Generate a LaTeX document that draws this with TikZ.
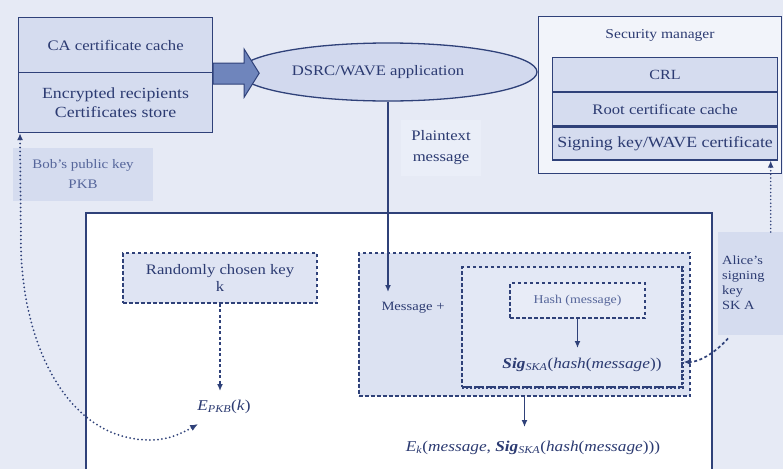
\documentclass[tikz,border=0pt]{standalone}
\usepackage{fontspec}
\setmainfont{Liberation Serif}[FakeStretch=1.15]
\usetikzlibrary{arrows.meta,shapes.geometric}
\definecolor{bg}{HTML}{E6EAF5}
\definecolor{fillA}{HTML}{D5DCEF}
\definecolor{ellf}{HTML}{D2D9EE}
\definecolor{smf}{HTML}{F2F4FA}
\definecolor{ptf}{HTML}{EAEEF8}
\definecolor{rkf}{HTML}{DFE4F3}
\definecolor{mbf}{HTML}{DCE2F2}
\definecolor{sbf}{HTML}{E3E8F5}
\definecolor{hbf}{HTML}{E8ECF7}
\definecolor{txt}{HTML}{2C3B72}
\definecolor{txtl}{HTML}{55659A}
\definecolor{ln}{HTML}{2F4179}
\definecolor{arr}{HTML}{6F85BC}
\newcommand{\fsz}[2]{\fontsize{#1}{#2}\selectfont}
\begin{document}
\begin{tikzpicture}[x=1pt,y=-1pt,
  every node/.style={text=txt, inner sep=0pt},
  box/.style={draw=ln, line width=1.2pt, fill=fillA, align=center},
  rowbox/.style={draw=ln, line width=1.2pt, fill=fillA, minimum width=225pt, anchor=north west},
  dbox/.style={draw=ln, line width=1.1pt, dash pattern=on 3.5pt off 2.5pt},
  solidarrow/.style={draw=ln, line width=1.4pt, -{Latex[length=7pt,width=6pt]}},
  dashedarrow/.style={draw=ln, line width=1.7pt, dash pattern=on 3pt off 2.5pt, -{Latex[length=7pt,width=6pt]}},
  dottedarrow/.style={draw=ln, line width=1.7pt, line cap=round, dash pattern=on 0pt off 3.6pt, -{Latex[length=7pt,width=6pt]}},
  bobarrow/.style={draw=ln, line width=2pt, line cap=round, dash pattern=on 0pt off 4pt, {Latex[length=7pt,width=6pt]}-{Latex[length=8pt,width=6.5pt]}}
]
\fill[bg] (0,0) rectangle (783,469);
\useasboundingbox (0,0) rectangle (783,469);

% top-left store
\node[box, minimum width=194pt, minimum height=55pt, anchor=north west, font=\fsz{14.5}{18}] (ca) at (18,17) {CA certificate cache};
\node[box, minimum width=194pt, minimum height=60pt, anchor=north west, font=\fsz{15.5}{19}] (enc) at (18,72) {Encrypted recipients\\Certificates store};

% application
\node[ellipse, draw=ln, line width=1.3pt, fill=ellf, minimum width=298pt, minimum height=58pt, font=\fsz{14.5}{18}] (app) at (388,72) {\hspace*{-20pt}DSRC/WAVE application};

% thick block arrow
\draw[ln, line width=1pt, fill=arr]
  ([shift={(0,-10)}]ca.south east) -- ([shift={(31,-10)}]ca.south east) -- ([shift={(31,-24)}]ca.south east)
  -- ([shift={(46,0)}]ca.south east) -- ([shift={(31,24)}]ca.south east) -- ([shift={(31,11)}]ca.south east)
  -- ([shift={(0,11)}]ca.south east) -- cycle;

% security manager
\node[draw=ln, line width=1.3pt, fill=smf, minimum width=243pt, minimum height=157pt, anchor=north west] (sm) at (538,16) {};
\node[font=\fsz{13.5}{16}] (smt) at (660,35) {Security manager};
\node[rowbox, minimum height=34pt, font=\fsz{14}{16}] (crl) at (552,57) {CRL};
\node[rowbox, minimum height=33pt, font=\fsz{14.5}{16}] (root) at (crl.south west) {Root certificate cache};
\node[rowbox, minimum height=33pt, font=\fsz{15.5}{16}] (sign) at (root.south west) {Signing key/WAVE certificate};

% plaintext label
\node[fill=ptf, minimum width=80pt, minimum height=56pt, align=center, font=\fsz{14.5}{21}] (pt) at (441,148) {Plaintext\\message};

% Bob's key
\node[fill=fillA, minimum width=140pt, minimum height=53pt, align=center, font=\fsz{13}{20}, text=txtl] (bob) at (83,174) {Bob's public key\\PKB};

% main frame
\fill[white] (86,213) rectangle (712,469);
\draw[ln, line width=1.4pt] (86,469) -- (86,213) -- (712,213) -- (712,469);

% Alice's key
\node[fill=fillA, minimum width=65pt, minimum height=103pt, anchor=north west] (al) at (718,232) {};
\node[anchor=west, align=left, font=\fsz{12.5}{15}] (alt) at (722,283) {Alice's\\signing\\key\\SK A};

% random key
\node[dbox, fill=rkf, minimum width=194pt, minimum height=50pt, align=center, font=\fsz{14.5}{17}] (rk) at (220,278) {Randomly chosen key\\k};
\node[font=\fsz{15}{18}] (epk) at (224,407) {\textit{E}\textsubscript{\textit{PKB}}(\textit{k})};

% message / signature boxes
\node[dbox, fill=mbf, minimum width=331pt, minimum height=143pt] (mb) at (524.5,324.5) {};
\node[dbox, fill=sbf, minimum width=220pt, minimum height=120pt] (sb) at (572,327) {};
\draw[ln, line width=2.2pt, dash pattern=on 2pt off 2pt] (sb.north east) -- (sb.south east) -- (sb.south west);
\node[dbox, fill=hbf, minimum width=135pt, minimum height=35pt, font=\fsz{12}{14}, text=txtl] (hb) at (577.5,300.5) {Hash (message)};
\node[font=\fsz{15}{18}] (sig) at (582,365) {\textbf{\textit{Sig}}\textsubscript{\textit{SKA}}(\textit{hash}(\textit{message}))};
\node[font=\fsz{12.7}{15}] (msg) at (413,308) {Message +};
\node[font=\fsz{15}{18}] (fin) at (533,448) {\textit{E}\textsubscript{\textit{k}}(\textit{message}, \textbf{\textit{Sig}}\textsubscript{\textit{SKA}}(\textit{hash}(\textit{message})))};

% connectors
\coordinate (pin) at (388,292);
\draw[solidarrow] (app.south) -- (pin);
\draw[solidarrow, shorten >=10pt] (hb.south) -- (hb.south |- sig.north);
\draw[solidarrow, shorten >=14pt] (mb.south) -- (mb.south |- fin.north);
\draw[dashedarrow, shorten >=9pt] (rk.south) -- (rk.south |- epk.north);
\draw[dottedarrow] ([xshift=20pt]al.north) -- ([xshift=20pt]al.north |- sign.south);
\draw[dashedarrow] ([shift={(10,3)}]al.south west) .. controls (716,352) and (700,362) .. ([shift={(1,35)}]sb.east);
\draw[bobarrow] ([xshift=2pt]enc.south west) -- (21,250) .. controls (24,350) and (70,440) .. (150,440) .. controls (170,440) and (184,432) .. ([shift={(1,10)}]epk.south west);
\end{tikzpicture}
\end{document}
